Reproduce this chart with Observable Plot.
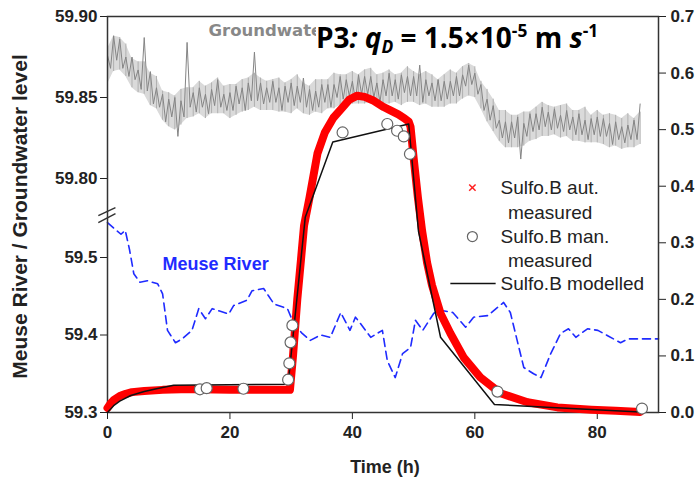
<!DOCTYPE html>
<html><head><meta charset="utf-8">
<script src="https://cdn.jsdelivr.net/npm/d3@7"></script>
<script src="https://cdn.jsdelivr.net/npm/@observablehq/plot@0.6"></script>
<style>
html,body{margin:0;padding:0;background:#fff;}
#wrap{position:relative;width:698px;height:477px;overflow:hidden;background:#fff;}
#wrap svg{position:absolute;left:0;top:0;}
#title{position:absolute;left:316px;top:23px;background:#fff;font-family:"Open Sans",sans-serif;font-weight:bold;font-size:28px;line-height:1;color:#000;white-space:nowrap;padding-right:2px;}
#title sub{font-size:0.62em;vertical-align:-0.3em;line-height:0;}
#title sup{font-size:0.62em;vertical-align:0.65em;line-height:0;}
</style></head>
<body><div id="wrap"><div id="title">P3<i>: q<sub>D</sub></i> = 1.5×10<sup>-5</sup> m <i>s</i><sup>-1</sup></div></div>
<script>
// ---------- data ----------
const gwStep = 0.5; // hours between groundwater readings, starting at t = 0
const groundwater = [
59.876,59.868,59.888,59.873,59.886,59.868,59.875,59.863,59.875,59.861,
59.867,59.855,59.887,59.854,59.866,59.846,59.856,59.844,59.852,59.835,
59.849,59.838,59.850,59.826,59.848,59.838,59.884,59.844,59.853,59.841,
59.856,59.844,59.852,59.840,59.855,59.845,59.861,59.844,59.852,59.842,
59.853,59.842,59.857,59.846,59.856,59.842,59.859,59.848,59.878,59.848,
59.859,59.846,59.856,59.847,59.860,59.847,59.856,59.842,59.857,59.847,
59.859,59.845,59.857,59.847,59.862,59.844,59.855,59.842,59.854,59.844,
59.858,59.847,59.858,59.844,59.858,59.850,59.863,59.849,59.861,59.851,
59.860,59.848,59.864,59.852,59.863,59.852,59.863,59.850,59.859,59.847,
59.861,59.851,59.865,59.851,59.861,59.849,59.864,59.853,59.863,59.851,
59.863,59.851,59.870,59.847,59.861,59.851,59.859,59.848,59.861,59.848,
59.860,59.849,59.860,59.851,59.863,59.851,59.864,59.857,59.870,59.858,
59.865,59.852,59.858,59.842,59.849,59.836,59.845,59.831,59.836,59.825,
59.835,59.822,59.835,59.825,59.838,59.812,59.834,59.826,59.840,59.829,
59.840,59.830,59.844,59.832,59.841,59.830,59.843,59.831,59.839,59.829,
59.842,59.830,59.838,59.827,59.840,59.827,59.836,59.824,59.837,59.827,
59.838,59.826,59.837,59.826,59.834,59.821,59.835,59.824,59.832,59.822,
59.833,59.824,59.836,59.824,59.846];
// envelope of the noisy groundwater trace, hourly from t = 0
const gwBandHigh = [59.880,59.888,59.887,59.883,59.874,59.872,59.872,59.865,59.863,59.854,
59.853,59.851,59.855,59.856,59.856,59.860,59.857,59.859,59.862,59.857,
59.858,59.858,59.861,59.862,59.865,59.862,59.860,59.861,59.862,59.859,
59.861,59.864,59.859,59.857,59.861,59.861,59.861,59.865,59.864,59.864,
59.866,59.864,59.867,59.868,59.864,59.865,59.867,59.864,59.865,59.869,
59.866,59.864,59.866,59.864,59.861,59.864,59.867,59.865,59.869,59.871,
59.869,59.860,59.855,59.849,59.842,59.842,59.839,59.839,59.841,59.841,
59.844,59.847,59.845,59.844,59.845,59.846,59.842,59.842,59.844,59.839,
59.842,59.839,59.840,59.839,59.837,59.840,59.837,59.841];
const gwBandLow = [59.858,59.866,59.867,59.863,59.856,59.853,59.852,59.845,59.843,59.836,
59.832,59.830,59.833,59.837,59.838,59.840,59.837,59.840,59.840,59.840,
59.837,59.839,59.841,59.842,59.844,59.842,59.842,59.842,59.841,59.841,
59.840,59.843,59.840,59.839,59.841,59.840,59.843,59.843,59.845,59.845,
59.846,59.846,59.846,59.847,59.845,59.846,59.846,59.847,59.845,59.847,
59.847,59.845,59.846,59.844,59.844,59.844,59.846,59.846,59.849,59.851,
59.850,59.843,59.835,59.829,59.823,59.819,59.819,59.819,59.820,59.823,
59.824,59.826,59.826,59.827,59.825,59.826,59.823,59.823,59.822,59.822,
59.822,59.821,59.819,59.820,59.818,59.819,59.819,59.821];

const riverTime  = [0,1,2.2,2.9,3.6,4.3,5.3,6.5,8.2,9.0,9.8,11.1,12.2,13.8,14.9,16.0,17.1,19.8,20.6,22.8,23.6,25.5,27.2,29.4,30.4,31.8,33.1,34.8,36.4,38.1,39.6,40.5,41.3,43.0,44.9,45.7,47.0,48.2,49.5,50.3,51.5,53.3,54.4,56.4,58.5,59.8,62.1,64.7,65.8,68.0,69.6,70.8,72.4,74.0,75.3,76.5,78.4,80.1,81.7,83.8,85.0,90.0];
const riverLevel = [59.545,59.538,59.530,59.535,59.510,59.479,59.468,59.470,59.466,59.453,59.406,59.390,59.395,59.406,59.434,59.421,59.434,59.427,59.438,59.445,59.457,59.460,59.440,59.434,59.415,59.402,59.393,59.400,59.397,59.429,59.406,59.423,59.415,59.397,59.406,59.367,59.345,59.376,59.384,59.419,59.406,59.428,59.432,59.429,59.410,59.423,59.425,59.442,59.429,59.358,59.350,59.345,59.376,59.402,59.408,59.397,59.408,59.406,59.399,59.390,59.395,59.395];

const autTime = [0,0.5,1,2,3,4,6,9,12,15,20,25,29.8,30.3,31.0,31.6,32.1,33.0,34.3,35.5,36.9,38.3,39.5,40.8,42.0,43.5,45.1,46.2,47.5,48.5,49.2,49.5,50.0,50.7,51.4,52.2,53.0,54.4,56.0,58.2,60.9,64.2,68.6,73.5,79.0,83.0,87.0];
const autConc = [0.008,0.016,0.022,0.029,0.033,0.036,0.038,0.040,0.041,0.041,0.040,0.040,0.040,0.10,0.20,0.27,0.33,0.38,0.458,0.495,0.521,0.538,0.553,0.560,0.558,0.551,0.540,0.534,0.527,0.520,0.514,0.505,0.45,0.38,0.32,0.265,0.225,0.175,0.14,0.097,0.062,0.034,0.018,0.009,0.005,0.003,0.001];

const manTime = [15.1,16.2,22.2,29.5,29.7,29.9,30.2,38.4,45.7,47.3,48.4,49.4,63.7,87.3];
const manConc = [0.041,0.043,0.042,0.058,0.087,0.124,0.154,0.495,0.51,0.498,0.488,0.457,0.037,0.007];

const modTime = [0,1,2,3.8,6,8,10.8,29.5,32.3,36.8,49.2,50.8,54.4,63.2,87];
const modConc = [0,0.012,0.02,0.03,0.037,0.042,0.048,0.05,0.345,0.478,0.51,0.32,0.133,0.014,0.001];

const xTicks = [0,20,40,60,80];
const concTicks = [0,0.1,0.2,0.3,0.4,0.5,0.6,0.7];
const gwTicks = [59.80,59.85,59.90];
const riverTicks = [59.3,59.4,59.5];
const legendLabels = ["Sulfo.B aut.", "measured", "Sulfo.B man.", "measured", "Sulfo.B modelled"];
const yTitle = "Meuse River / Groundwater level";
const xTitle = "Time (h)";

// ---------- layout ----------
const W = 698, H = 477, ML = 107, MR = 40, MT = 16, MB = 65;
const BREAK_PX = 215; // vertical position of the axis break
const FONT = "Liberation Sans, Arial, Helvetica, sans-serif";
const INK = "#222";
const baseStyle = {fontFamily: FONT, fontSize: "17px", fontWeight: "bold", color: INK, overflow: "visible"};

const gw = groundwater.map((v, i) => ({t: i * gwStep, v}));
const gwBand = gwBandHigh.map((hi, i) => ({t: i, hi, lo: gwBandLow[i]}));
const river = riverTime.map((t, i) => ({t, v: riverLevel[i]}));
const aut = autTime.map((t, i) => ({t, c: autConc[i]}));
const man = manTime.map((t, i) => ({t, c: manConc[i]}));
const mod = modTime.map((t, i) => ({t, c: modConc[i]}));

// upper panel (groundwater)
const gwLow = 59.90 - (BREAK_PX - MT) / ((178 - 16) / 0.10);
const gwPlot = Plot.plot({
  width: W, height: H, marginLeft: ML, marginRight: MR, marginTop: MT, marginBottom: H - BREAK_PX,
  style: baseStyle,
  x: {domain: [0, 90], axis: null},
  y: {domain: [gwLow, 59.90], ticks: gwTicks, tickFormat: ".2f", tickSize: 7, tickPadding: 3, label: null},
  marks: [
    Plot.areaY(gwBand, {x: "t", y1: "lo", y2: "hi", fill: "#dadada", curve: "linear"}),
    Plot.ruleX(gwBand, {x: "t", y1: "lo", y2: "hi", stroke: "#b0b0b0", strokeWidth: 1}),
    Plot.line(gw, {x: "t", y: "v", stroke: "#858585", strokeWidth: 1}),
    Plot.text(["Groundwater"], {text: d => d, x: 16.5, y: 59.891, textAnchor: "start", fill: "#888", fontFamily: "DejaVu Sans, sans-serif", fontSize: 16.5, fontWeight: "bold"})
  ]
});

// lower panel (river)
const rvHigh = 59.3 + (H - MB - BREAK_PX) / ((412 - 257) / 0.2);
const breakMarks = [
  {x1: -1.5, y1: rvHigh - 0.0002, x2: 1.3, y2: rvHigh + 0.0101},
  {x1: -1.5, y1: rvHigh - 0.0092, x2: 1.3, y2: rvHigh + 0.0024}
];
const riverPlot = Plot.plot({
  width: W, height: H, marginLeft: ML, marginRight: MR, marginTop: BREAK_PX, marginBottom: MB,
  style: {...baseStyle, background: "transparent"},
  x: {domain: [0, 90], axis: null},
  y: {domain: [59.3, rvHigh], ticks: riverTicks, tickFormat: ".1f", tickSize: 7, tickPadding: 3, label: null},
  marks: [
    Plot.line(river, {x: "t", y: "v", stroke: "#1f2bff", strokeWidth: 1.6, strokeDasharray: "8,5"}),
    Plot.text(["Meuse River"], {text: d => d, x: 9.0, y: 59.491, textAnchor: "start", fill: "#1f2bff", fontSize: 18, fontWeight: "bold"}),
    Plot.link(breakMarks, {x1: "x1", y1: "y1", x2: "x2", y2: "y2", stroke: "#333", strokeWidth: 1.5})
  ]
});

// main panel (concentration, right axis)
const legY = [0.3975, 0.3534, 0.311, 0.2686, 0.228];
const legendText = legendLabels.map((s, i) => ({s, c: legY[i], t: (i === 1 || i === 3) ? 65.4 : 64.2}));
const mainPlot = Plot.plot({
  width: W, height: H, marginLeft: ML, marginRight: MR, marginTop: MT, marginBottom: MB,
  style: {...baseStyle, background: "transparent"},
  x: {domain: [0, 90], ticks: xTicks, tickSize: 7, tickPadding: 6, label: null},
  y: {domain: [0, 0.7], axis: "right", ticks: concTicks, tickFormat: ".1f", tickSize: 7, tickPadding: 5, label: null},
  marks: [
    Plot.frame({stroke: "#333", strokeWidth: 1.5}),
    Plot.line(aut, {x: "t", y: "c", stroke: "#ff0000", strokeWidth: 8}),
    Plot.line(mod, {x: "t", y: "c", stroke: "#111", strokeWidth: 1.5}),
    Plot.dot(man, {x: "t", y: "c", r: 5.5, stroke: "#666", strokeWidth: 1.2, fill: "white"}),
    // legend
    Plot.dot([legY[0]], {x: 59.6, y: d => d, symbol: "times", r: 3, stroke: "#ff2020", strokeWidth: 1.5}),
    Plot.dot([legY[2]], {x: 59.6, y: d => d, r: 5, stroke: "#666", strokeWidth: 1.2, fill: "white"}),
    Plot.link([legY[4]], {x1: 56.0, x2: 63.4, y1: d => d, y2: d => d, stroke: "#111", strokeWidth: 1.5}),
    Plot.text(legendText, {x: "t", y: "c", text: "s", textAnchor: "start", fill: INK, fontSize: 19, fontWeight: "normal"}),
    // axis titles
    Plot.text([yTitle], {text: d => d, frameAnchor: "left", textAnchor: "middle", lineAnchor: "middle", dx: -87, dy: 2, rotate: -90, fontSize: 21, fontWeight: "bold", fill: INK}),
    Plot.text([xTitle], {text: d => d, frameAnchor: "bottom", textAnchor: "middle", lineAnchor: "middle", dy: 55, dx: 2, fontSize: 18, fontWeight: "bold", fill: INK})
  ]
});

const wrap = document.getElementById("wrap");
const title = document.getElementById("title");
wrap.insertBefore(gwPlot, title);
wrap.insertBefore(riverPlot, title);
wrap.insertBefore(mainPlot, title);
</script></body></html>
